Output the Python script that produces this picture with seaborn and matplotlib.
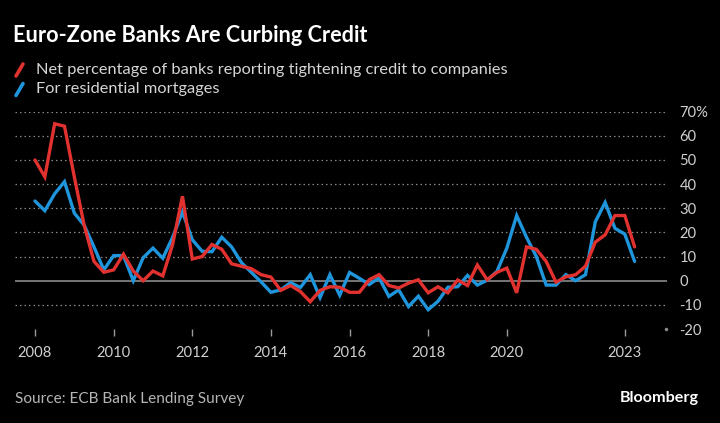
import numpy as np
import pandas as pd
import matplotlib
matplotlib.use("Agg")
import matplotlib.pyplot as plt
import seaborn as sns
from matplotlib.lines import Line2D

# ---- data ----
quarters = pd.period_range("2008Q1", "2023Q2", freq="Q")
companies = [50, 43, 65, 64, 43, 23, 8, 3.5, 4.5, 11, 4, 0, 4, 2, 15, 35,
             9, 10, 15, 13, 7, 6, 5, 2.5, 1.5, -4, -2, -4.5, -8.7, -4, -2.5, -2.7,
             -4.8, -4.8, 0.4, 2.5, -2, -3, -1, 0.4, -5, -2.5, -5, 0.3, -2, 6.5,
             0.4, 3.5, 5.2, -5, 14, 13, 8, -0.6, 1.6, 2.5, 6, 16, 19, 27,
             27, 14]
mortgages = [33, 29, 36, 41, 28, 23, 14, 4.5, 10.4, 10.4, 0, 9.5, 13.5, 9.3, 18, 28.5,
             17, 12.2, 12, 18, 14, 7.5, 3.5, -0.5, -4.8, -3.8, -0.8, -2.8, 2.5, -7, 2.5, -6,
             3.4, 1, -1.6, 1.2, -6.5, -3.8, -10.7, -6.4, -12, -8.5, -2.7, -2.5, 2.2, -1.8,
             0.2, 3.9, 13.5, 27, 18, 10, -1.8, -1.8, 2.5, 0, 2.5, 24.4, 32.4, 21.7,
             19.3, 8]
series_names = ["Net percentage of banks reporting tightening credit to companies",
                "For residential mortgages"]
year_ticks = [2008, 2010, 2012, 2014, 2016, 2018, 2020, 2023]
y_ticks = [-20, -10, 0, 10, 20, 30, 40, 50, 60, 70]
y_tick_labels = ["-20", "-10", "0", "10", "20", "30", "40", "50", "60", "70%"]

title = "Euro-Zone Banks Are Curbing Credit"
source = "Source: ECB Bank Lending Survey"
brand = "Bloomberg"

RED = "#e2322f"
BLUE = "#1f95dc"

# ---- frame ----
xq = np.asarray(quarters.year + (quarters.quarter - 1) / 4.0, dtype=float)
df = pd.DataFrame({
    "x": np.concatenate([xq, xq]),
    "value": companies + mortgages,
    "series": [series_names[0]] * len(xq) + [series_names[1]] * len(xq),
})

sns.set_theme(style="dark")
plt.rcParams["font.family"] = ["Lato", "DejaVu Sans"]

fig = plt.figure(figsize=(7.2, 4.23), dpi=100, facecolor="black")
W, H = 720, 423
ax_left, ax_right, ax_top, ax_bottom = 15, 667, 111.7, 329
ax = fig.add_axes([ax_left / W, 1 - ax_bottom / H,
                   (ax_right - ax_left) / W, (ax_bottom - ax_top) / H])
ax.set_facecolor("black")

sns.lineplot(data=df, x="x", y="value", hue="series",
             hue_order=[series_names[1], series_names[0]],
             palette=[BLUE, RED], linewidth=2.4, legend=False, ax=ax,
             zorder=3)
for ln in ax.get_lines():
    ln.set_solid_joinstyle("miter")

ax.set_xlim(2008 - 20 / 39.32, 2023 + 42.2 / 39.32)
ax.set_ylim(-20, 70)
ax.set_xlabel("")
ax.set_ylabel("")

for s in ax.spines.values():
    s.set_visible(False)

ax.set_xticks(year_ticks)
ax.set_xticklabels([str(y) for y in year_ticks])
ax.tick_params(axis="x", bottom=True, length=5, width=1, color="#9a9a9a",
               labelcolor="#d0d0d0", labelsize=10.6, pad=7, direction="out")

ax.yaxis.tick_right()
ax.set_yticks(y_ticks)
ax.set_yticklabels(y_tick_labels)
ax.tick_params(axis="y", right=False, left=False, length=0,
               labelcolor="#d0d0d0", labelsize=10.6, pad=9)

ax.grid(False)
for v in y_ticks:
    if v in (-20, 0):
        continue
    ax.axhline(v, color="#8a8a8a", linestyle=(0, (1.2, 2.4)), linewidth=0.9, zorder=1)
ax.axhline(0, color="#8a8a8a", linewidth=1.2, zorder=2)
ax.plot([ax.get_xlim()[1] - 0.03], [-20], marker="o", markersize=1.5,
        color="#8a8a8a", clip_on=False, zorder=1)

# ---- texts ----
fig.text(13 / W, 1 - 36 / H, title, color="white", fontsize=15.6,
         fontweight="bold", va="center", ha="left")

for i, (name, col) in enumerate(zip(series_names, [RED, BLUE])):
    yc = 70 + i * 19.5
    fig.add_artist(Line2D([16 / W, 23 / W], [1 - (yc + 6) / H, 1 - (yc - 6) / H],
                          color=col, linewidth=2.6, transform=fig.transFigure))
    fig.text(36 / W, 1 - yc / H, name, color="#d6d6d6", fontsize=11.8,
             va="center", ha="left")

fig.text(15 / W, 1 - 399 / H, source, color="#b5b5b5", fontsize=11.1,
         va="center", ha="left")
fig.text(699 / W, 1 - 398 / H, brand, color="white", fontsize=11.6,
         fontweight="bold", va="center", ha="right")

fig.savefig("out.png", dpi=100, facecolor="black")
